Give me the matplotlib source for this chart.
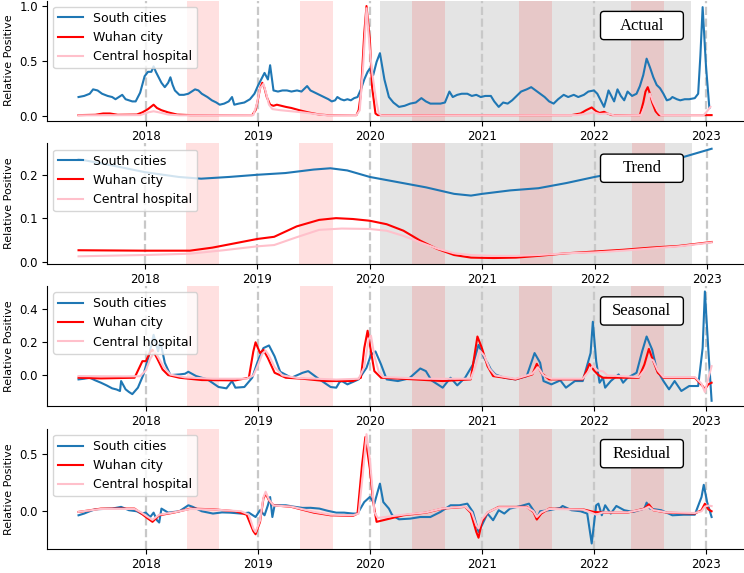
import numpy as np
import matplotlib
matplotlib.use("Agg")
import matplotlib.pyplot as plt
from matplotlib.patches import FancyBboxPatch

# (decimal year, value) pairs
act_south = [(2017.40, 0.17), (2017.45, 0.18), (2017.50, 0.20), (2017.53, 0.24), (2017.57, 0.23),
             (2017.61, 0.20), (2017.66, 0.18), (2017.70, 0.17), (2017.73, 0.15), (2017.76, 0.17),
             (2017.79, 0.19), (2017.82, 0.15), (2017.85, 0.14), (2017.88, 0.13), (2017.91, 0.13),
             (2017.95, 0.21), (2017.99, 0.36), (2018.02, 0.40), (2018.05, 0.40), (2018.07, 0.45),
             (2018.09, 0.40), (2018.11, 0.36), (2018.14, 0.30), (2018.17, 0.26), (2018.20, 0.30),
             (2018.22, 0.35), (2018.24, 0.28), (2018.26, 0.23), (2018.30, 0.19), (2018.34, 0.19),
             (2018.38, 0.20), (2018.41, 0.22), (2018.44, 0.24), (2018.47, 0.23), (2018.50, 0.20),
             (2018.55, 0.17), (2018.59, 0.14), (2018.63, 0.12), (2018.66, 0.10), (2018.70, 0.11),
             (2018.74, 0.13), (2018.77, 0.17), (2018.79, 0.10), (2018.83, 0.11), (2018.88, 0.12),
             (2018.93, 0.15), (2018.97, 0.20), (2019.00, 0.27), (2019.03, 0.33), (2019.06, 0.39),
             (2019.09, 0.33), (2019.11, 0.46), (2019.14, 0.23), (2019.18, 0.22), (2019.22, 0.23),
             (2019.26, 0.23), (2019.30, 0.22), (2019.35, 0.23), (2019.39, 0.22), (2019.44, 0.27),
             (2019.47, 0.23), (2019.51, 0.21), (2019.55, 0.19), (2019.59, 0.17), (2019.63, 0.15),
             (2019.66, 0.13), (2019.69, 0.14), (2019.71, 0.17), (2019.74, 0.15), (2019.77, 0.14),
             (2019.80, 0.15), (2019.83, 0.14), (2019.86, 0.16), (2019.89, 0.17), (2019.92, 0.24),
             (2019.95, 0.33), (2019.98, 0.40), (2020.00, 0.43), (2020.03, 0.37), (2020.06, 0.49),
             (2020.09, 0.57), (2020.11, 0.45), (2020.13, 0.33), (2020.17, 0.17), (2020.21, 0.12),
             (2020.26, 0.08), (2020.31, 0.09), (2020.36, 0.11), (2020.41, 0.12), (2020.46, 0.16),
             (2020.50, 0.13), (2020.54, 0.11), (2020.59, 0.11), (2020.63, 0.11), (2020.67, 0.12),
             (2020.71, 0.22), (2020.74, 0.17), (2020.78, 0.19), (2020.82, 0.20), (2020.87, 0.20),
             (2020.91, 0.18), (2020.95, 0.19), (2020.99, 0.17), (2021.03, 0.18), (2021.08, 0.18),
             (2021.11, 0.13), (2021.15, 0.08), (2021.19, 0.12), (2021.23, 0.11), (2021.27, 0.14),
             (2021.31, 0.18), (2021.35, 0.22), (2021.40, 0.24), (2021.44, 0.26), (2021.48, 0.23),
             (2021.52, 0.20), (2021.56, 0.17), (2021.60, 0.13), (2021.64, 0.11), (2021.68, 0.15),
             (2021.73, 0.19), (2021.77, 0.17), (2021.82, 0.19), (2021.86, 0.17), (2021.91, 0.19),
             (2021.95, 0.22), (2022.00, 0.23), (2022.03, 0.20), (2022.06, 0.14), (2022.09, 0.08),
             (2022.11, 0.15), (2022.13, 0.23), (2022.16, 0.17), (2022.18, 0.13), (2022.21, 0.24),
             (2022.24, 0.18), (2022.27, 0.14), (2022.30, 0.22), (2022.34, 0.18), (2022.38, 0.20),
             (2022.41, 0.27), (2022.44, 0.37), (2022.47, 0.52), (2022.50, 0.44), (2022.53, 0.35),
             (2022.56, 0.28), (2022.59, 0.25), (2022.62, 0.20), (2022.65, 0.14), (2022.68, 0.15),
             (2022.70, 0.17), (2022.74, 0.15), (2022.77, 0.14), (2022.81, 0.15), (2022.85, 0.15),
             (2022.90, 0.16), (2022.93, 0.20), (2022.95, 0.55), (2022.97, 0.99), (2023.00, 0.45),
             (2023.03, 0.07)]
act_wuhan = [(2017.40, 0.005), (2017.55, 0.008), (2017.62, 0.02), (2017.68, 0.02), (2017.75, 0.008),
             (2017.92, 0.01), (2017.97, 0.03), (2018.02, 0.06), (2018.07, 0.10), (2018.10, 0.07),
             (2018.14, 0.05), (2018.20, 0.03), (2018.28, 0.01), (2018.40, 0.005), (2018.95, 0.005),
             (2018.98, 0.05), (2019.00, 0.14), (2019.02, 0.25), (2019.04, 0.30), (2019.06, 0.25),
             (2019.08, 0.17), (2019.11, 0.10), (2019.14, 0.09), (2019.17, 0.10), (2019.25, 0.08),
             (2019.30, 0.07), (2019.37, 0.05), (2019.45, 0.03), (2019.55, 0.01), (2019.62, 0.005),
             (2019.88, 0.005), (2019.90, 0.05), (2019.92, 0.20), (2019.95, 0.75), (2019.97, 1.00),
             (2020.00, 0.69), (2020.02, 0.26), (2020.05, 0.02), (2020.07, 0.005), (2021.80, 0.005),
             (2021.88, 0.02), (2021.93, 0.05), (2021.98, 0.075), (2022.02, 0.04), (2022.05, 0.025),
             (2022.09, 0.035), (2022.12, 0.02), (2022.16, 0.005), (2022.41, 0.005), (2022.44, 0.12),
             (2022.46, 0.22), (2022.48, 0.26), (2022.50, 0.20), (2022.52, 0.12), (2022.55, 0.04),
             (2022.58, 0.005), (2023.05, 0.005)]
act_central = [(2017.40, 0.003), (2017.95, 0.005), (2018.02, 0.03), (2018.07, 0.04), (2018.12, 0.03),
               (2018.20, 0.01), (2018.30, 0.003), (2018.96, 0.005), (2018.99, 0.10), (2019.02, 0.25),
               (2019.05, 0.29), (2019.07, 0.22), (2019.10, 0.10), (2019.13, 0.06), (2019.20, 0.05),
               (2019.30, 0.04), (2019.40, 0.03), (2019.55, 0.01), (2019.62, 0.003), (2019.88, 0.005),
               (2019.91, 0.05), (2019.94, 0.45), (2019.97, 0.98), (2020.00, 0.60), (2020.02, 0.40),
               (2020.04, 0.25), (2020.06, 0.12), (2020.08, 0.02), (2020.10, 0.003), (2021.85, 0.005),
               (2021.95, 0.02), (2022.00, 0.03), (2022.05, 0.015), (2022.12, 0.02), (2022.18, 0.003),
               (2022.42, 0.005), (2022.46, 0.10), (2022.50, 0.20), (2022.53, 0.12), (2022.57, 0.04),
               (2022.60, 0.005), (2022.98, 0.005), (2023.01, 0.04), (2023.04, 0.08)]

trend_south = [(2017.41, 0.236), (2017.7, 0.222), (2018.0, 0.206), (2018.3, 0.195), (2018.5, 0.191),
               (2018.75, 0.195), (2019.0, 0.200), (2019.25, 0.204), (2019.5, 0.212), (2019.65, 0.215),
               (2019.8, 0.210), (2020.0, 0.195), (2020.25, 0.183), (2020.5, 0.171), (2020.75, 0.156),
               (2020.9, 0.152), (2021.0, 0.156), (2021.25, 0.164), (2021.5, 0.169), (2021.75, 0.181),
               (2022.0, 0.195), (2022.25, 0.207), (2022.5, 0.222), (2022.79, 0.241), (2023.04, 0.260)]
trend_wuhan = [(2017.41, 0.026), (2018.0, 0.025), (2018.4, 0.025), (2018.6, 0.032), (2018.8, 0.042),
               (2019.0, 0.052), (2019.15, 0.057), (2019.35, 0.081), (2019.55, 0.096), (2019.7, 0.100),
               (2019.85, 0.098), (2020.0, 0.094), (2020.15, 0.086), (2020.3, 0.071), (2020.45, 0.048),
               (2020.6, 0.029), (2020.75, 0.015), (2020.9, 0.009), (2021.1, 0.008), (2021.3, 0.009),
               (2021.5, 0.013), (2021.75, 0.019), (2022.0, 0.023), (2022.25, 0.027), (2022.5, 0.032),
               (2022.75, 0.036), (2023.04, 0.045)]
trend_central = [(2017.41, 0.012), (2018.0, 0.015), (2018.4, 0.018), (2018.7, 0.026), (2019.0, 0.035),
                 (2019.15, 0.038), (2019.35, 0.056), (2019.55, 0.073), (2019.75, 0.076), (2020.0, 0.075),
                 (2020.15, 0.071), (2020.3, 0.059), (2020.45, 0.044), (2020.6, 0.030), (2020.75, 0.019),
                 (2020.9, 0.015), (2021.1, 0.013), (2021.3, 0.013), (2021.5, 0.015), (2021.75, 0.019),
                 (2022.0, 0.021), (2022.25, 0.025), (2022.5, 0.030), (2022.75, 0.035), (2023.04, 0.044)]

seas_south = [(2017.40, -0.024), (2017.45, -0.02), (2017.50, -0.014), (2017.55, -0.03), (2017.60, -0.044),
              (2017.65, -0.06), (2017.70, -0.078), (2017.74, -0.085), (2017.77, -0.094), (2017.78, -0.034),
              (2017.82, -0.084), (2017.85, -0.10), (2017.88, -0.113), (2017.93, -0.074), (2017.98, 0.006),
              (2018.03, 0.125), (2018.07, 0.245), (2018.11, 0.145), (2018.13, 0.205), (2018.17, 0.076),
              (2018.22, 0.002), (2018.30, 0.006), (2018.35, 0.01), (2018.38, 0.022), (2018.45, -0.004),
              (2018.55, -0.024), (2018.65, -0.07), (2018.72, -0.078), (2018.77, -0.034), (2018.80, -0.074),
              (2018.88, -0.07), (2018.95, -0.014), (2019.00, 0.086), (2019.05, 0.165), (2019.10, 0.181),
              (2019.15, 0.115), (2019.20, 0.022), (2019.30, -0.014), (2019.40, 0.016), (2019.45, 0.026),
              (2019.55, -0.024), (2019.65, -0.07), (2019.70, -0.074), (2019.73, -0.04), (2019.75, -0.034),
              (2019.80, -0.054), (2019.90, -0.024), (2019.97, 0.046), (2020.01, 0.125), (2020.05, 0.145),
              (2020.10, 0.066), (2020.15, -0.024), (2020.25, -0.034), (2020.35, -0.018), (2020.45, 0.042),
              (2020.50, 0.026), (2020.55, -0.03), (2020.65, -0.074), (2020.72, -0.014), (2020.78, -0.06),
              (2020.85, -0.014), (2020.92, 0.066), (2020.97, 0.185), (2021.02, 0.105), (2021.05, 0.076),
              (2021.08, 0.036), (2021.12, 0.006), (2021.20, -0.014), (2021.30, -0.024), (2021.40, -0.004),
              (2021.47, 0.135), (2021.52, 0.076), (2021.55, -0.034), (2021.62, -0.054), (2021.70, -0.03),
              (2021.75, -0.074), (2021.83, -0.034), (2021.90, -0.034), (2021.97, 0.135), (2021.99, 0.324),
              (2022.02, 0.086), (2022.05, -0.044), (2022.08, -0.014), (2022.10, -0.074), (2022.15, -0.034),
              (2022.22, 0.006), (2022.26, -0.044), (2022.30, -0.014), (2022.38, 0.016), (2022.43, 0.145),
              (2022.47, 0.235), (2022.52, 0.155), (2022.56, 0.036), (2022.62, -0.034), (2022.67, -0.084),
              (2022.72, -0.034), (2022.78, -0.094), (2022.85, -0.064), (2022.93, -0.064), (2022.97, 0.165),
              (2022.99, 0.507), (2023.02, 0.165), (2023.05, -0.153)]
seas_wuhan = [(2017.40, -0.014), (2017.60, -0.018), (2017.90, -0.014), (2017.97, 0.086), (2018.00, 0.086),
              (2018.04, 0.14), (2018.06, 0.155), (2018.10, 0.105), (2018.15, 0.036), (2018.20, 0.002),
              (2018.30, -0.014), (2018.50, -0.028), (2018.80, -0.03), (2018.92, -0.014), (2018.96, 0.145),
              (2018.98, 0.20), (2019.02, 0.135), (2019.05, 0.155), (2019.09, 0.105), (2019.15, 0.016),
              (2019.25, -0.014), (2019.40, -0.02), (2019.60, -0.034), (2019.85, -0.034), (2019.92, -0.014),
              (2019.95, 0.165), (2019.98, 0.27), (2020.01, 0.145), (2020.04, 0.026), (2020.10, -0.014),
              (2020.40, -0.024), (2020.65, -0.034), (2020.90, -0.024), (2020.93, 0.105), (2020.96, 0.235),
              (2021.00, 0.165), (2021.05, 0.056), (2021.10, -0.004), (2021.30, -0.024), (2021.45, 0.006),
              (2021.49, 0.07), (2021.53, 0.016), (2021.60, -0.024), (2021.90, -0.024), (2021.96, 0.07),
              (2022.00, 0.03), (2022.04, 0.002), (2022.08, -0.014), (2022.40, -0.014), (2022.45, 0.066),
              (2022.49, 0.16), (2022.53, 0.086), (2022.57, 0.016), (2022.62, -0.014), (2022.90, -0.014),
              (2022.97, -0.064), (2022.99, -0.084), (2023.02, -0.054), (2023.05, -0.044)]
seas_central = [(2017.40, -0.004), (2017.80, -0.006), (2017.95, -0.005), (2018.00, 0.03), (2018.04, 0.10),
                (2018.08, 0.145), (2018.12, 0.10), (2018.16, 0.05), (2018.22, 0.005), (2018.35, -0.012),
                (2018.60, -0.02), (2018.90, -0.02), (2018.96, 0.0), (2019.00, 0.06), (2019.04, 0.13),
                (2019.07, 0.15), (2019.10, 0.12), (2019.15, 0.05), (2019.22, 0.0), (2019.35, -0.015),
                (2019.70, -0.025), (2019.90, -0.02), (2019.95, 0.05), (2019.99, 0.22), (2020.01, 0.24),
                (2020.04, 0.12), (2020.08, 0.02), (2020.12, -0.01), (2020.50, -0.02), (2020.90, -0.02),
                (2020.94, 0.05), (2020.98, 0.15), (2021.02, 0.12), (2021.07, 0.04), (2021.12, 0.0),
                (2021.30, -0.02), (2021.45, 0.01), (2021.50, 0.05), (2021.55, 0.0), (2021.62, -0.02),
                (2021.90, -0.02), (2021.96, 0.03), (2021.99, 0.06), (2022.03, 0.03), (2022.08, 0.025),
                (2022.12, 0.0), (2022.40, -0.01), (2022.46, 0.04), (2022.50, 0.10), (2022.53, 0.09),
                (2022.57, 0.03), (2022.62, -0.01), (2022.90, -0.01), (2022.96, -0.05), (2022.99, -0.10),
                (2023.02, -0.02), (2023.05, 0.056)]

resid_south = [(2017.40, -0.035), (2017.45, -0.02), (2017.50, 0.0), (2017.55, 0.017), (2017.62, 0.02),
               (2017.70, 0.023), (2017.78, 0.038), (2017.85, 0.009), (2017.92, 0.0), (2017.96, -0.02),
               (2018.00, -0.012), (2018.04, -0.05), (2018.07, -0.012), (2018.10, -0.078), (2018.12, -0.098),
               (2018.14, 0.023), (2018.20, -0.012), (2018.30, 0.0), (2018.38, 0.052), (2018.42, 0.038),
               (2018.50, 0.0), (2018.60, -0.02), (2018.68, -0.01), (2018.75, -0.012), (2018.85, -0.02),
               (2018.92, -0.012), (2018.98, -0.05), (2019.02, 0.009), (2019.06, -0.035), (2019.09, 0.052),
               (2019.11, 0.124), (2019.13, -0.05), (2019.15, 0.052), (2019.25, 0.052), (2019.32, 0.04),
               (2019.40, 0.029), (2019.47, 0.03), (2019.55, 0.023), (2019.62, 0.005), (2019.70, -0.012),
               (2019.77, -0.012), (2019.85, -0.02), (2019.89, -0.02), (2019.95, 0.08), (2020.00, 0.124),
               (2020.04, 0.066), (2020.09, 0.24), (2020.12, 0.08), (2020.17, 0.023), (2020.20, -0.035),
               (2020.26, -0.07), (2020.36, -0.064), (2020.45, -0.05), (2020.54, -0.05), (2020.63, -0.006),
               (2020.72, 0.052), (2020.80, 0.052), (2020.87, 0.066), (2020.92, -0.006), (2020.97, -0.18),
               (2021.00, -0.121), (2021.05, -0.02), (2021.10, -0.078), (2021.15, 0.009), (2021.20, -0.02),
               (2021.25, 0.023), (2021.35, 0.046), (2021.42, 0.066), (2021.47, -0.006), (2021.49, -0.064),
               (2021.52, 0.0), (2021.60, 0.009), (2021.70, 0.029), (2021.72, 0.046), (2021.80, 0.009),
               (2021.88, 0.0), (2021.94, -0.02), (2021.98, -0.28), (2022.02, 0.052), (2022.04, 0.066),
               (2022.07, -0.035), (2022.10, 0.052), (2022.15, -0.02), (2022.20, 0.046), (2022.27, 0.009),
               (2022.35, -0.006), (2022.45, 0.023), (2022.47, 0.075), (2022.50, 0.023), (2022.60, 0.009),
               (2022.70, -0.035), (2022.80, -0.03), (2022.90, -0.03), (2022.96, 0.124), (2022.98, 0.23),
               (2023.01, 0.08), (2023.05, -0.05)]
resid_wuhan = [(2017.40, -0.006), (2017.60, 0.023), (2017.90, 0.023), (2017.95, -0.012), (2018.02, -0.064),
               (2018.06, -0.092), (2018.12, -0.035), (2018.25, -0.012), (2018.40, 0.023), (2018.60, 0.017),
               (2018.80, 0.0), (2018.90, -0.03), (2018.96, -0.173), (2018.98, -0.20), (2019.02, -0.092),
               (2019.05, 0.11), (2019.07, 0.153), (2019.10, 0.095), (2019.14, 0.052), (2019.30, 0.038),
               (2019.50, -0.012), (2019.65, -0.035), (2019.85, -0.04), (2019.89, -0.02), (2019.93, 0.40),
               (2019.96, 0.645), (2020.00, 0.37), (2020.03, 0.08), (2020.06, -0.092), (2020.30, -0.035),
               (2020.50, -0.012), (2020.65, 0.023), (2020.85, 0.038), (2020.90, -0.012), (2020.95, -0.18),
               (2020.97, -0.23), (2021.00, -0.092), (2021.05, -0.012), (2021.15, 0.038), (2021.40, 0.038),
               (2021.46, -0.006), (2021.49, -0.072), (2021.53, -0.02), (2021.60, 0.023), (2021.90, 0.017),
               (2022.00, -0.006), (2022.10, -0.012), (2022.30, -0.012), (2022.45, 0.023), (2022.49, 0.06),
               (2022.53, 0.009), (2022.65, -0.012), (2022.90, -0.02), (2022.96, 0.009), (2022.99, 0.066),
               (2023.02, 0.017), (2023.05, 0.0)]
resid_central = [(2017.40, -0.005), (2017.60, 0.02), (2017.90, 0.02), (2017.96, -0.01), (2018.02, -0.05),
                 (2018.06, -0.075), (2018.12, -0.03), (2018.25, -0.01), (2018.40, 0.02), (2018.60, 0.015),
                 (2018.85, 0.0), (2018.92, -0.03), (2018.96, -0.15), (2018.98, -0.18), (2019.02, -0.08),
                 (2019.05, 0.12), (2019.07, 0.17), (2019.10, 0.10), (2019.14, 0.05), (2019.30, 0.04),
                 (2019.50, -0.005), (2019.65, -0.03), (2019.85, -0.035), (2019.90, -0.02), (2019.94, 0.35),
                 (2019.97, 0.67), (2020.00, 0.45), (2020.02, 0.23), (2020.04, -0.006), (2020.07, -0.058),
                 (2020.30, -0.03), (2020.50, -0.01), (2020.65, 0.025), (2020.85, 0.04), (2020.91, -0.01),
                 (2020.95, -0.12), (2020.97, -0.15), (2021.00, -0.07), (2021.05, -0.01), (2021.15, 0.035),
                 (2021.40, 0.035), (2021.46, 0.0), (2021.49, -0.05), (2021.53, -0.01), (2021.60, 0.02),
                 (2021.90, 0.015), (2021.97, -0.01), (2022.02, -0.03), (2022.08, -0.01), (2022.30, -0.01),
                 (2022.45, 0.02), (2022.49, 0.04), (2022.53, 0.01), (2022.65, -0.01), (2022.90, -0.015),
                 (2022.96, 0.0), (2022.99, 0.04), (2023.02, 0.05), (2023.05, 0.045)]

labels = ["South cities", "Wuhan city", "Central hospital"]
panel_names = ["Actual", "Trend", "Seasonal", "Residual"]
panel_yticks = [[0.0, 0.5, 1.0], [0.0, 0.1, 0.2], [0.0, 0.2, 0.4], [0.0, 0.5]]
years = [2018, 2019, 2020, 2021, 2022, 2023]
summer_start = [2018.365, 2019.375, 2020.375, 2021.333, 2022.333]
summer_end = [2018.658, 2019.672, 2020.672, 2021.628, 2022.624]
covid_period = (2020.092, 2022.867)

panels = [
    [act_south, act_wuhan, act_central],
    [trend_south, trend_wuhan, trend_central],
    [seas_south, seas_wuhan, seas_central],
    [resid_south, resid_wuhan, resid_central],
]
colors = ["#1f77b4", "red", "pink"]

fig, axes = plt.subplots(4, 1, figsize=(7.44, 5.73), dpi=100)
fig.subplots_adjust(left=0.063, right=0.999, top=0.999, bottom=0.042, hspace=0.187)

for ax, series, name, yt in zip(axes, panels, panel_names, panel_yticks):
    ax.axvspan(covid_period[0], covid_period[1], color="#e4e4e4", lw=0, zorder=0)
    for s, e in zip(summer_start, summer_end):
        ax.axvspan(s, e, color="red", alpha=0.12, lw=0, zorder=0.5)
    for y in years:
        ax.axvline(y, color="#c8c8c8", ls="--", lw=1.6, zorder=1)
    for data, c, lab in zip(series, colors, labels):
        arr = np.array(data)
        ax.plot(arr[:, 0], arr[:, 1], color=c, lw=1.5, label=lab, zorder=2)
    ax.set_xticks(years)
    ax.set_xticklabels([str(y) for y in years])
    ax.set_yticks(yt)
    ax.tick_params(labelsize=8.5, length=3.5, pad=3)
    ax.set_ylabel("Relative Positive", fontsize=8)
    ax.spines["top"].set_visible(False)
    ax.spines["right"].set_visible(False)
    ax.legend(loc="upper left", fontsize=9)

    # fixed-size rounded label box, same for every panel
    box = FancyBboxPatch((0.795, 0.675), 0.119, 0.235,
                         boxstyle="round,pad=0,rounding_size=0.005",
                         mutation_aspect=ax.bbox.width / ax.bbox.height,
                         transform=ax.transAxes, facecolor="white", edgecolor="black",
                         lw=1.0, zorder=5)
    ax.add_patch(box)
    ax.text(0.8545, 0.7925, name, transform=ax.transAxes, ha="center", va="center",
            fontsize=12, family="Liberation Serif", zorder=6)

fig.savefig("out.png", dpi=100)
